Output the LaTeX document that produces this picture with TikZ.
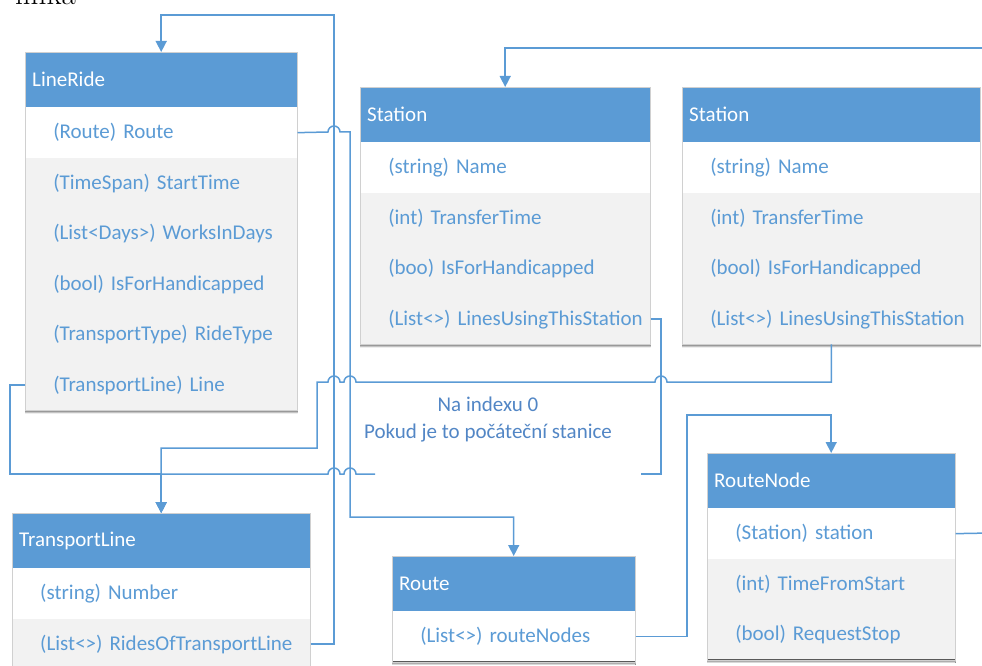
\documentclass[tikz,border=0pt]{standalone}
\usepackage{fontspec}
\newfontfamily\calfont{Carlito}
\usetikzlibrary{arrows.meta}

\definecolor{hdrblue}{HTML}{5B9BD5}
\definecolor{rowgray}{HTML}{F2F2F2}
\definecolor{edgegray}{HTML}{D0D0D0}
\definecolor{shade}{HTML}{D5E3F3}
\definecolor{notetext}{HTML}{5286C5}

\newcommand\ttlt[1]{\hspace*{7pt}\mbox{#1}}
\newcommand\fldt[1]{\hspace*{28pt}\mbox{#1}}

\tikzset{
  x=1pt, y=-1pt,
  boxfont/.style={font=\calfont\fontsize{21}{25}\selectfont},
  hdr/.style={rectangle, fill=hdrblue, text=white, minimum height=55pt,
    inner xsep=0pt, inner ysep=0pt, align=left, anchor=north west, boxfont},
  fld/.style={rectangle, text=hdrblue, minimum height=50pt,
    inner xsep=0pt, inner ysep=0pt, align=left, anchor=north west, boxfont},
  conn/.style={draw=hdrblue, line width=1.5pt},
  arrowend/.style={-{Triangle[width=11pt,length=11pt]}},
  notestyle/.style={text=notetext, align=center, inner sep=0pt,
    font=\calfont\fontsize{21}{27}\selectfont},
}

% class box: name, corner, width, title, fields, number of fields
\newcommand\classbox[6]{%
  \node[hdr, text width=#3, alias=#1] (#1-0) at #2 {\ttlt{#4}};
  \foreach \f [count=\i from 1, remember=\i as \j (initially 0)] in {#5} {
    \ifnum\i=1 \def\rowfill{white}\else\def\rowfill{rowgray}\fi
    \node[fld, fill=\rowfill, draw=\rowfill, line width=0.5pt, text width=#3]
      (#1-\i) at (#1-\j.south west) {\fldt{\f}};
  }
  \fill[shade] (#1-#6.south west) rectangle ([yshift=-3pt]#1-#6.south east);
  \draw[edgegray, line width=0.6pt] (#1-0.north west) rectangle (#1-#6.south east);
}

\begin{document}
\begin{tikzpicture}
\useasboundingbox (0,0) rectangle (982,666);

% heading fragment above the diagram
\node[anchor=base west, inner sep=0pt, font=\fontsize{31}{32}\selectfont] (heading) at (15,4.5) {linka};

% classes
\classbox{lr}{(25,52)}{272pt}{LineRide}{{(Route) Route},{(TimeSpan) StartTime},{(List<Days>) WorksInDays},{(bool) IsForHandicapped},{(TransportType) RideType},{(TransportLine) Line}}{6}
\classbox{s1}{(360,87)}{290pt}{Station}{{(string) Name},{(int) TransferTime},{(boo) IsForHandicapped},{(List<>) LinesUsingThisStation}}{4}
\classbox{s2}{(682,87)}{298pt}{Station}{{(string) Name},{(int) TransferTime},{(bool) IsForHandicapped},{(List<>) LinesUsingThisStation}}{4}
\classbox{tl}{(12,513)}{298pt}{TransportLine}{{(string) Number},{(List<>) RidesOfTransportLine}}{2}
\classbox{rt}{(392,556)}{243pt}{Route}{{(List<>) routeNodes}}{1}
\classbox{rn}{(707,453)}{248pt}{RouteNode}{{(Station) station},{(int) TimeFromStart},{(bool) RequestStop}}{3}

% note between the stations and the lower classes
\node[notestyle] (note) at (488,420) {Na indexu 0\\Pokud je to počáteční stanice};

% free ends of the connectors
\coordinate (gapR) at (641,474);
\coordinate (gapL) at (375,474);
\coordinate (offR1) at (990,533);
\coordinate (offR2) at (990,48);

% TransportLine.RidesOfTransportLine -> LineRide
\draw[conn, arrowend] (tl-2.east) -| (334,15) -| (lr.north);

% LineRide.Route -> Route
\draw[conn, arrowend] (lr-1.east) -- (328,132)
  arc[start angle=180, end angle=0, radius=6pt] -- (350,132) -- (350,517) -| (rt.north);

% LineRide.Line -> TransportLine
\draw[conn, arrowend] (lr-6.west) -| (10,474) -| (tl.north);

% Station.LinesUsingThisStation -> TransportLine (interrupted under the note)
\draw[conn] (s1-4.east) -| (661,474) -- (gapR);
\draw[conn, arrowend] (gapL) -- (356,474)
  arc[start angle=0, end angle=180, radius=6pt] -- (340,474)
  arc[start angle=0, end angle=180, radius=6pt] -| (tl.north);

% second Station.LinesUsingThisStation -> TransportLine
\draw[conn, arrowend] (s2-4.south) |- (667,382)
  arc[start angle=0, end angle=180, radius=6pt] -- (356,382)
  arc[start angle=0, end angle=180, radius=6pt] -- (340,382)
  arc[start angle=0, end angle=180, radius=6pt] -| (317,448) -| (tl.north);

% Route.routeNodes -> RouteNode
\draw[conn, arrowend] (rt-1.east) -| (687,415) -| (rn.north);

% links leaving past the right edge
\draw[conn] (rn-1.east) -- (offR1);
\draw[conn, arrowend] (offR2) -| (s1.north);
\end{tikzpicture}
\end{document}
